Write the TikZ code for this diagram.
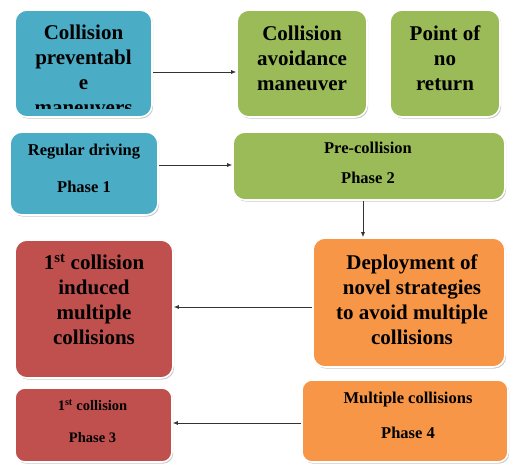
\documentclass[tikz,border=0pt]{standalone}
\usepackage{fontspec}
\setmainfont{Liberation Serif}
\usetikzlibrary{arrows.meta,shadows}
\definecolor{cblue}{HTML}{4BACC6}
\definecolor{cgreen}{HTML}{9BBB59}
\definecolor{cred}{HTML}{C0504D}
\definecolor{corange}{HTML}{F79646}
\begin{document}
\begin{tikzpicture}[x=1pt,y=-1pt,
  box/.style={draw=white, line width=1.6pt, rounded corners=12pt, inner sep=0pt,
    drop shadow={shadow xshift=1.2pt, shadow yshift=-1.6pt, opacity=0.3, fill=black!70}},
  big/.style={font=\bfseries\fontsize{21}{25}\selectfont, align=center, text=black, inner sep=0pt},
  mid/.style={font=\bfseries\fontsize{16.5}{#1}\selectfont, align=center, text=black, inner sep=0pt},
  sml/.style={font=\bfseries\fontsize{14.5}{#1}\selectfont, align=center, text=black, inner sep=0pt},
  arr/.style={-{Latex[length=5pt,width=4pt]}, line width=0.8pt, draw=black!80}]
\useasboundingbox (0,0) rectangle (510,466);

% top row: stages
\node[box, fill=cblue,   minimum width=137pt, minimum height=107pt] (cpm) at (83.5,63.5) {};
\node[box, fill=cgreen,  minimum width=130pt, minimum height=107pt] (cav) at (302,63.5) {};
\node[box, fill=cgreen,  minimum width=110pt, minimum height=107pt] (pnr) at (445,63.5) {};
\begin{scope}
  \clip (15,10) rectangle (152,108.5);
  \node[big] (tcpm) at (83.5,70) {Collision\\preventabl\\e\\maneuvers};
\end{scope}
\node[big] (tcav) at (302,58) {Collision\\avoidance\\maneuver};
\node[big] (tpnr) at (445,58) {Point of\\no\\return};

% second row: phases 1 and 2
\node[box, fill=cblue,  minimum width=148pt, minimum height=83pt] (rd) at (84,173.5) {};
\node[box, fill=cgreen, minimum width=272pt, minimum height=68pt] (pc) at (369,166) {};
\node[mid=37] (trd) at (84,168.5) {Regular driving\\Phase 1};
\node[mid=30] (tpc) at (368,163) {Pre-collision\\Phase 2};

% third row: strategies
\node[box, fill=cred,    minimum width=158pt, minimum height=138pt] (ind) at (94,309) {};
\node[box, fill=corange, minimum width=192pt, minimum height=129pt] (dep) at (409,302.5) {};
\node[big] (tind) at (94,299.5) {1\textsuperscript{st} collision\\induced\\multiple\\collisions};
\node[big] (tdep) at (412,299.5) {Deployment of\\novel strategies\\to avoid multiple\\collisions};

% bottom row: phases 3 and 4
\node[box, fill=cred,    minimum width=157pt, minimum height=74pt, rounded corners=10pt] (p3) at (93.5,425) {};
\node[box, fill=corange, minimum width=206pt, minimum height=82pt, rounded corners=10pt] (mc) at (405,421) {};
\node[sml=32] (tp3) at (92.5,421) {1\textsuperscript{st} collision\\Phase 3};
\node[mid=35] (tmc) at (408,415.5) {Multiple collisions\\Phase 4};

% connectors
\draw[arr] (cpm.east |- 0,72) -- (cav.west |- 0,72);
\draw[arr] (rd.east |- 0,165) -- (pc.west |- 0,165);
\draw[arr] (pc.south -| 363,0) -- (dep.north -| 363,0);
\draw[arr] (dep.west |- 0,307) -- (ind.east |- 0,307);
\draw[arr] (mc.west |- 0,423) -- (p3.east |- 0,423);
\end{tikzpicture}
\end{document}
